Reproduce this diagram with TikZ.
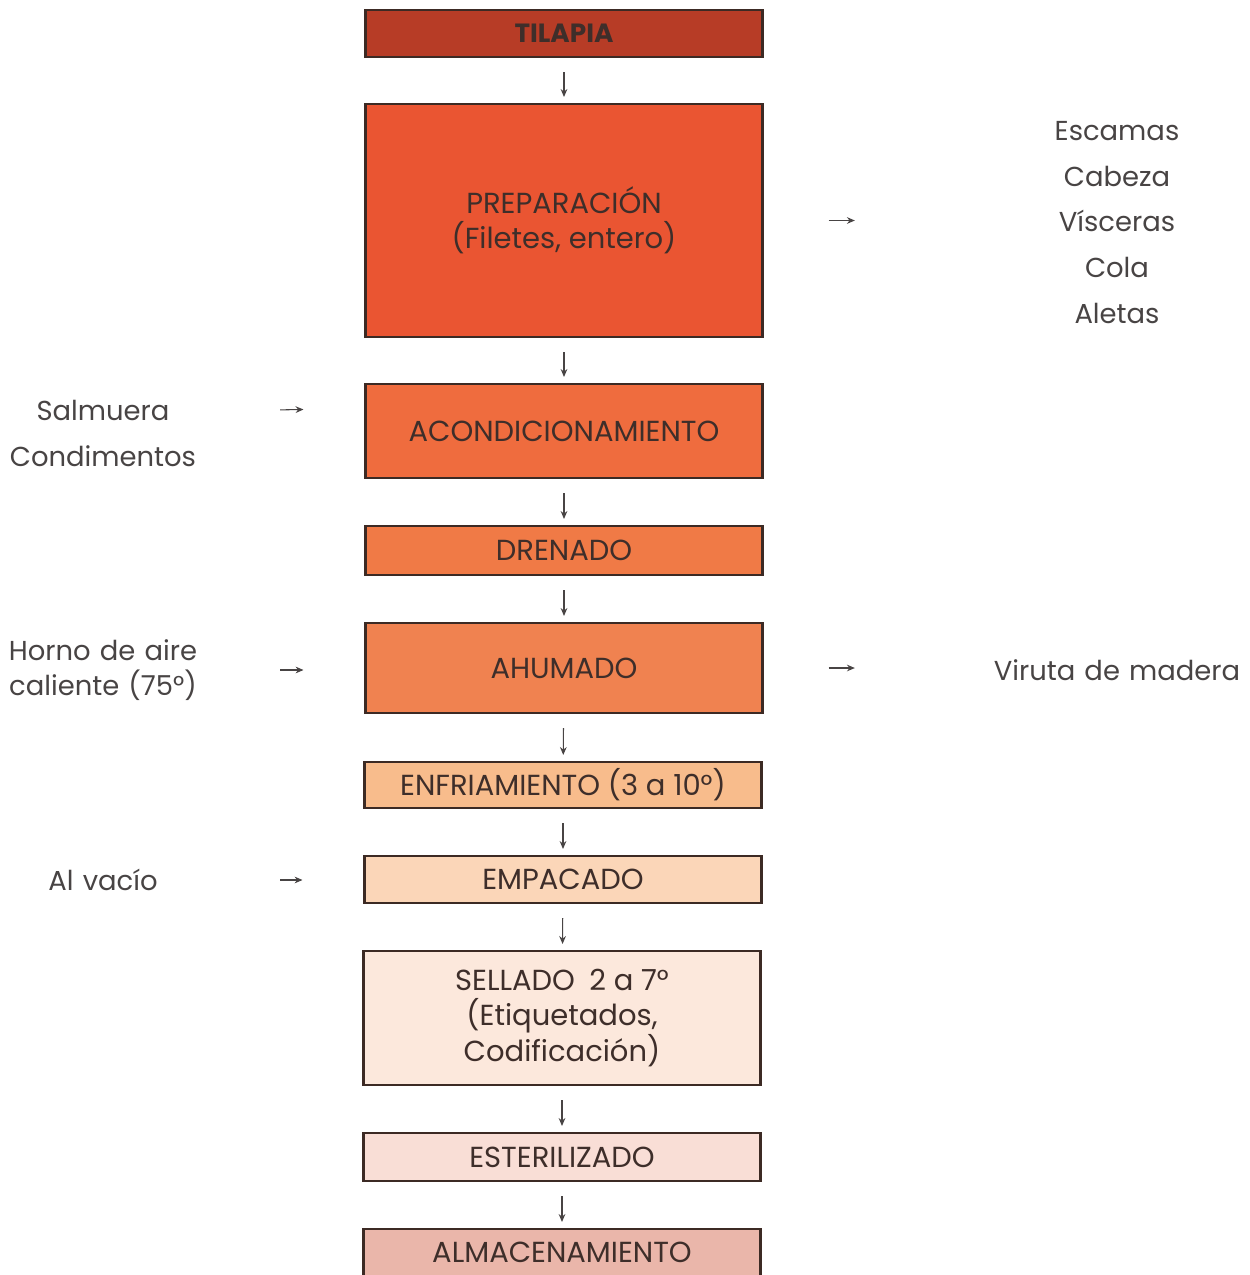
\documentclass[tikz,border=0pt]{standalone}
\usepackage{fontspec}
\setmainfont{Poppins}
\usetikzlibrary{positioning}
\usetikzlibrary{arrows.meta}

\definecolor{cTilapia}{RGB}{183,60,38}
\definecolor{cPrep}{RGB}{234,85,50}
\definecolor{cAcond}{RGB}{239,108,62}
\definecolor{cDren}{RGB}{240,122,70}
\definecolor{cAhum}{RGB}{240,130,80}
\definecolor{cEnfr}{RGB}{248,188,140}
\definecolor{cEmpac}{RGB}{251,214,184}
\definecolor{cSell}{RGB}{252,232,220}
\definecolor{cEster}{RGB}{249,222,214}
\definecolor{cAlma}{RGB}{234,182,170}
\definecolor{borde}{RGB}{60,42,36}
\definecolor{letra}{RGB}{62,46,42}
\definecolor{gris}{RGB}{72,68,68}

\tikzset{
  caja/.style={draw=borde, line width=1.2pt, minimum width=7.94cm, inner sep=2pt,
    align=center, text=letra, font=\fontsize{16.5}{20}\selectfont},
  lado/.style={text=gris, align=center, text width=4cm, font=\fontsize{15.6}{20}\selectfont},
  lista/.style={text=gris, align=center, text width=5.2cm, font=\fontsize{15.6}{26}\selectfont},
  flecha/.style={-{Stealth[length=4.5pt,width=3.8pt]}, draw=gris, line width=0.6pt},
  baja/.style={flecha, shorten <=0.28cm, shorten >=0.12cm},
}

\begin{document}
\begin{tikzpicture}[x=0.02cm, y=-0.02cm]
\useasboundingbox (0,0) rectangle (1250,1275);

% etapas del proceso
\node[caja, fill=cTilapia, minimum height=0.94cm, font=\fontsize{15}{20}\selectfont\bfseries] (tilapia) at (564,33.5) {TILAPIA};
\node[caja, fill=cPrep, minimum height=4.66cm] (prep) at (564,220.5) {PREPARACIÓN\\(Filetes, entero)};
\node[caja, fill=cAcond, minimum height=1.88cm] (acond) at (564,431) {ACONDICIONAMIENTO};
\node[caja, fill=cDren, minimum height=0.98cm] (dren) at (564,550.5) {DRENADO};
\node[caja, fill=cAhum, minimum height=1.8cm] (ahum) at (564,668) {AHUMADO};
\node[caja, fill=cEnfr, minimum height=0.92cm] (enfr) at (563,785) {ENFRIAMIENTO (3 a 10°)};
\node[caja, fill=cEmpac, minimum height=0.94cm] (empac) at (563,879.5) {EMPACADO};
\node[caja, fill=cSell, minimum height=2.68cm] (sell) at (562,1018) {SELLADO\enspace 2 a 7°\\(Etiquetados,\\Codificación)};
\node[caja, fill=cEster, minimum height=0.96cm] (ester) at (562,1157) {ESTERILIZADO};
\node[caja, fill=cAlma, minimum height=0.94cm] (alma) at (562,1252.5) {ALMACENAMIENTO};

% entradas y salidas
\node[lista] (desechos) at (1117,222.5) {Escamas\\Cabeza\\Vísceras\\Cola\\Aletas};
\node[lado, font=\fontsize{15.6}{26}\selectfont] (salm) at (103,433.5) {Salmuera\\Condimentos};
\node[lado] (horno) at (103,670) {Horno de aire\\caliente (75°)};
\node[lista] (viruta) at (1117,670) {Viruta de madera};
\node[lado] (vacio) at (103,880) {Al vacío};

\draw[baja] (tilapia) -- (prep);
\draw[baja] (prep) -- (acond);
\draw[baja] (acond) -- (dren);
\draw[baja] (dren) -- (ahum);
\draw[baja] (ahum) -- (enfr);
\draw[baja] (enfr) -- (empac);
\draw[baja] (empac) -- (sell);
\draw[baja] (sell) -- (ester);
\draw[baja] (ester) -- (alma);

\draw[flecha, shorten <=1.42cm, shorten >=1.22cm] ([yshift=0.45cm]salm.east) -- ([yshift=0.45cm]acond.west);
\draw[flecha, shorten <=1.42cm, shorten >=1.22cm] (horno.east) -- (horno.east -| ahum.west);
\draw[flecha, shorten <=1.42cm, shorten >=1.22cm] (vacio.east) -- (vacio.east -| empac.west);
\draw[flecha, shorten <=1.3cm, shorten >=2.52cm] (prep.east) -- (prep.east -| desechos.west);
\draw[flecha, shorten <=1.3cm, shorten >=2.52cm] (ahum.east) -- (ahum.east -| viruta.west);
\end{tikzpicture}
\end{document}
